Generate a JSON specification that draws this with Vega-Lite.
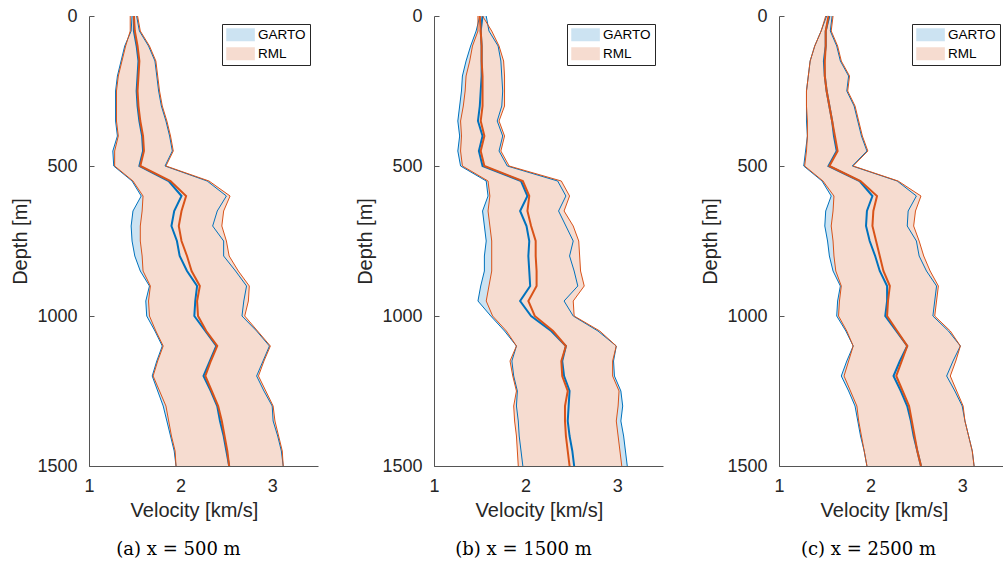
{
"$schema":"https://vega.github.io/schema/vega-lite/v6.json",
"background":"white",
"padding":{"left":10,"top":7,"right":0,"bottom":0},
"datasets":{
"pa":[
{"d":0,"gl":1.47,"gm":1.49,"gu":1.52,"rl":1.45,"rm":1.49,"ru":1.53},
{"d":50,"gl":1.46,"gm":1.49,"gu":1.55,"rl":1.45,"rm":1.50,"ru":1.56},
{"d":100,"gl":1.39,"gm":1.52,"gu":1.65,"rl":1.40,"rm":1.53,"ru":1.66},
{"d":150,"gl":1.35,"gm":1.54,"gu":1.72,"rl":1.36,"rm":1.55,"ru":1.73},
{"d":200,"gl":1.31,"gm":1.53,"gu":1.74,"rl":1.32,"rm":1.54,"ru":1.75},
{"d":250,"gl":1.29,"gm":1.52,"gu":1.76,"rl":1.30,"rm":1.53,"ru":1.77},
{"d":300,"gl":1.29,"gm":1.53,"gu":1.79,"rl":1.30,"rm":1.54,"ru":1.80},
{"d":350,"gl":1.29,"gm":1.55,"gu":1.84,"rl":1.30,"rm":1.56,"ru":1.85},
{"d":400,"gl":1.31,"gm":1.58,"gu":1.88,"rl":1.32,"rm":1.59,"ru":1.89},
{"d":450,"gl":1.26,"gm":1.59,"gu":1.91,"rl":1.28,"rm":1.60,"ru":1.92},
{"d":500,"gl":1.27,"gm":1.55,"gu":1.83,"rl":1.28,"rm":1.56,"ru":1.84},
{"d":550,"gl":1.47,"gm":1.87,"gu":2.29,"rl":1.48,"rm":1.89,"ru":2.31},
{"d":600,"gl":1.57,"gm":2.01,"gu":2.50,"rl":1.59,"rm":2.06,"ru":2.54},
{"d":650,"gl":1.48,"gm":1.93,"gu":2.40,"rl":1.58,"rm":2.01,"ru":2.47},
{"d":700,"gl":1.46,"gm":1.90,"gu":2.35,"rl":1.56,"rm":1.98,"ru":2.45},
{"d":750,"gl":1.47,"gm":1.96,"gu":2.47,"rl":1.56,"rm":2.01,"ru":2.50},
{"d":800,"gl":1.50,"gm":1.99,"gu":2.47,"rl":1.58,"rm":2.07,"ru":2.53},
{"d":850,"gl":1.56,"gm":2.07,"gu":2.60,"rl":1.59,"rm":2.12,"ru":2.63},
{"d":900,"gl":1.66,"gm":2.18,"gu":2.72,"rl":1.67,"rm":2.21,"ru":2.75},
{"d":950,"gl":1.62,"gm":2.16,"gu":2.69,"rl":1.65,"rm":2.18,"ru":2.74},
{"d":1000,"gl":1.63,"gm":2.15,"gu":2.67,"rl":1.66,"rm":2.19,"ru":2.70},
{"d":1050,"gl":1.72,"gm":2.27,"gu":2.83,"rl":1.73,"rm":2.28,"ru":2.84},
{"d":1100,"gl":1.80,"gm":2.39,"gu":2.97,"rl":1.81,"rm":2.40,"ru":2.98},
{"d":1150,"gl":1.74,"gm":2.32,"gu":2.90,"rl":1.75,"rm":2.33,"ru":2.91},
{"d":1200,"gl":1.69,"gm":2.25,"gu":2.83,"rl":1.70,"rm":2.27,"ru":2.85},
{"d":1250,"gl":1.75,"gm":2.33,"gu":2.91,"rl":1.77,"rm":2.34,"ru":2.93},
{"d":1300,"gl":1.81,"gm":2.40,"gu":3.00,"rl":1.84,"rm":2.41,"ru":3.01},
{"d":1350,"gl":1.85,"gm":2.43,"gu":3.01,"rl":1.87,"rm":2.45,"ru":3.03},
{"d":1400,"gl":1.89,"gm":2.47,"gu":3.06,"rl":1.90,"rm":2.48,"ru":3.07},
{"d":1450,"gl":1.93,"gm":2.50,"gu":3.10,"rl":1.94,"rm":2.51,"ru":3.11},
{"d":1500,"gl":1.95,"gm":2.53,"gu":3.12,"rl":1.95,"rm":2.53,"ru":3.12}
],
"pb":[
{"d":0,"gl":1.50,"gm":1.53,"gu":1.57,"rl":1.48,"rm":1.50,"ru":1.53},
{"d":50,"gl":1.46,"gm":1.51,"gu":1.60,"rl":1.48,"rm":1.51,"ru":1.63},
{"d":100,"gl":1.40,"gm":1.52,"gu":1.70,"rl":1.42,"rm":1.52,"ru":1.71},
{"d":150,"gl":1.35,"gm":1.52,"gu":1.73,"rl":1.39,"rm":1.52,"ru":1.76},
{"d":200,"gl":1.31,"gm":1.52,"gu":1.74,"rl":1.35,"rm":1.53,"ru":1.77},
{"d":250,"gl":1.30,"gm":1.51,"gu":1.75,"rl":1.34,"rm":1.53,"ru":1.77},
{"d":300,"gl":1.28,"gm":1.50,"gu":1.74,"rl":1.32,"rm":1.53,"ru":1.77},
{"d":350,"gl":1.26,"gm":1.48,"gu":1.69,"rl":1.29,"rm":1.51,"ru":1.71},
{"d":400,"gl":1.28,"gm":1.53,"gu":1.75,"rl":1.30,"rm":1.55,"ru":1.77},
{"d":450,"gl":1.26,"gm":1.49,"gu":1.71,"rl":1.29,"rm":1.51,"ru":1.73},
{"d":500,"gl":1.29,"gm":1.53,"gu":1.80,"rl":1.31,"rm":1.55,"ru":1.82},
{"d":550,"gl":1.57,"gm":1.95,"gu":2.35,"rl":1.59,"rm":1.97,"ru":2.39},
{"d":600,"gl":1.59,"gm":2.02,"gu":2.44,"rl":1.61,"rm":2.04,"ru":2.48},
{"d":650,"gl":1.53,"gm":1.94,"gu":2.36,"rl":1.59,"rm":2.02,"ru":2.42},
{"d":700,"gl":1.55,"gm":2.01,"gu":2.44,"rl":1.61,"rm":2.06,"ru":2.52},
{"d":750,"gl":1.57,"gm":2.04,"gu":2.52,"rl":1.63,"rm":2.11,"ru":2.58},
{"d":800,"gl":1.55,"gm":2.03,"gu":2.48,"rl":1.63,"rm":2.11,"ru":2.59},
{"d":850,"gl":1.55,"gm":2.04,"gu":2.53,"rl":1.63,"rm":2.12,"ru":2.60},
{"d":900,"gl":1.51,"gm":2.05,"gu":2.57,"rl":1.60,"rm":2.12,"ru":2.64},
{"d":950,"gl":1.48,"gm":1.94,"gu":2.42,"rl":1.57,"rm":2.03,"ru":2.52},
{"d":1000,"gl":1.62,"gm":2.06,"gu":2.52,"rl":1.64,"rm":2.10,"ru":2.53},
{"d":1050,"gl":1.77,"gm":2.28,"gu":2.79,"rl":1.79,"rm":2.30,"ru":2.81},
{"d":1100,"gl":1.90,"gm":2.44,"gu":2.99,"rl":1.90,"rm":2.44,"ru":2.99},
{"d":1150,"gl":1.85,"gm":2.40,"gu":2.96,"rl":1.83,"rm":2.39,"ru":2.95},
{"d":1200,"gl":1.87,"gm":2.42,"gu":2.97,"rl":1.86,"rm":2.40,"ru":2.95},
{"d":1250,"gl":1.91,"gm":2.48,"gu":3.04,"rl":1.90,"rm":2.46,"ru":3.02},
{"d":1300,"gl":1.90,"gm":2.47,"gu":3.06,"rl":1.87,"rm":2.43,"ru":3.01},
{"d":1350,"gl":1.92,"gm":2.46,"gu":3.04,"rl":1.88,"rm":2.43,"ru":2.99},
{"d":1400,"gl":1.93,"gm":2.48,"gu":3.07,"rl":1.90,"rm":2.44,"ru":3.01},
{"d":1450,"gl":1.95,"gm":2.51,"gu":3.09,"rl":1.91,"rm":2.46,"ru":3.03},
{"d":1500,"gl":1.97,"gm":2.53,"gu":3.11,"rl":1.92,"rm":2.48,"ru":3.05}
],
"pc":[
{"d":0,"gl":1.52,"gm":1.55,"gu":1.58,"rl":1.51,"rm":1.54,"ru":1.59},
{"d":50,"gl":1.46,"gm":1.51,"gu":1.56,"rl":1.46,"rm":1.51,"ru":1.57},
{"d":100,"gl":1.39,"gm":1.51,"gu":1.63,"rl":1.39,"rm":1.51,"ru":1.64},
{"d":150,"gl":1.34,"gm":1.49,"gu":1.67,"rl":1.34,"rm":1.50,"ru":1.68},
{"d":200,"gl":1.32,"gm":1.50,"gu":1.76,"rl":1.32,"rm":1.50,"ru":1.77},
{"d":250,"gl":1.30,"gm":1.52,"gu":1.74,"rl":1.30,"rm":1.52,"ru":1.75},
{"d":300,"gl":1.30,"gm":1.55,"gu":1.82,"rl":1.30,"rm":1.55,"ru":1.83},
{"d":350,"gl":1.30,"gm":1.58,"gu":1.86,"rl":1.31,"rm":1.58,"ru":1.87},
{"d":400,"gl":1.31,"gm":1.60,"gu":1.90,"rl":1.31,"rm":1.61,"ru":1.91},
{"d":450,"gl":1.29,"gm":1.63,"gu":1.96,"rl":1.30,"rm":1.64,"ru":1.97},
{"d":500,"gl":1.27,"gm":1.54,"gu":1.80,"rl":1.28,"rm":1.55,"ru":1.81},
{"d":550,"gl":1.47,"gm":1.88,"gu":2.29,"rl":1.48,"rm":1.89,"ru":2.30},
{"d":600,"gl":1.57,"gm":2.02,"gu":2.50,"rl":1.60,"rm":2.07,"ru":2.55},
{"d":650,"gl":1.51,"gm":1.96,"gu":2.41,"rl":1.59,"rm":2.03,"ru":2.49},
{"d":700,"gl":1.50,"gm":1.95,"gu":2.40,"rl":1.57,"rm":2.02,"ru":2.47},
{"d":750,"gl":1.53,"gm":1.99,"gu":2.50,"rl":1.59,"rm":2.06,"ru":2.53},
{"d":800,"gl":1.55,"gm":2.05,"gu":2.53,"rl":1.60,"rm":2.10,"ru":2.58},
{"d":850,"gl":1.59,"gm":2.10,"gu":2.61,"rl":1.62,"rm":2.14,"ru":2.65},
{"d":900,"gl":1.67,"gm":2.18,"gu":2.72,"rl":1.68,"rm":2.21,"ru":2.74},
{"d":950,"gl":1.64,"gm":2.18,"gu":2.70,"rl":1.66,"rm":2.19,"ru":2.72},
{"d":1000,"gl":1.63,"gm":2.16,"gu":2.68,"rl":1.65,"rm":2.18,"ru":2.70},
{"d":1050,"gl":1.73,"gm":2.28,"gu":2.85,"rl":1.74,"rm":2.29,"ru":2.87},
{"d":1100,"gl":1.81,"gm":2.40,"gu":2.98,"rl":1.81,"rm":2.40,"ru":2.98},
{"d":1150,"gl":1.74,"gm":2.32,"gu":2.90,"rl":1.76,"rm":2.34,"ru":2.93},
{"d":1200,"gl":1.68,"gm":2.25,"gu":2.83,"rl":1.71,"rm":2.28,"ru":2.87},
{"d":1250,"gl":1.76,"gm":2.33,"gu":2.92,"rl":1.78,"rm":2.35,"ru":2.94},
{"d":1300,"gl":1.83,"gm":2.40,"gu":3.00,"rl":1.85,"rm":2.42,"ru":3.01},
{"d":1350,"gl":1.86,"gm":2.44,"gu":3.03,"rl":1.87,"rm":2.45,"ru":3.03},
{"d":1400,"gl":1.89,"gm":2.47,"gu":3.07,"rl":1.90,"rm":2.48,"ru":3.07},
{"d":1450,"gl":1.93,"gm":2.51,"gu":3.11,"rl":1.93,"rm":2.51,"ru":3.11},
{"d":1500,"gl":1.96,"gm":2.55,"gu":3.13,"rl":1.96,"rm":2.55,"ru":3.13}
]
},
"spacing":116,
"bounds":"flush",
"resolve":{"scale":{"color":"independent"},"legend":{"color":"independent"}},
"hconcat":[
{"width":229,"height":450,"data":{"name":"pa"},
"title":{"text":"(a) x = 500 m","orient":"bottom","anchor":"middle","dx":-25,"offset":20},
"encoding":{"y":{"field":"d","type":"quantitative","scale":{"domain":[0,1500],"reverse":true,"nice":false},"axis":{"values":[0,500,1000,1500],"format":"d","title":"Depth [m]"}}},
"layer":[
{"mark":{"type":"area","orient":"horizontal","opacity":1},"encoding":{"x":{"field":"gl","type":"quantitative","scale":{"domain":[1,3.5],"nice":false,"zero":false},"axis":{"values":[1,2,3],"title":"Velocity [km/s]"}},"x2":{"field":"gu"},"color":{"datum":"GARTO","scale":{"domain":["GARTO","RML"],"range":["#CCE3F2","#F6DCD0"]},"legend":{"title":null}}}},
{"mark":{"type":"area","orient":"horizontal","opacity":1},"encoding":{"x":{"field":"rl","type":"quantitative","scale":{"domain":[1,3.5],"nice":false,"zero":false},"axis":{"values":[1,2,3],"title":"Velocity [km/s]"}},"x2":{"field":"ru"},"color":{"datum":"RML","scale":{"domain":["GARTO","RML"],"range":["#CCE3F2","#F6DCD0"]},"legend":{"title":null}}}},
{"mark":{"type":"line","color":"#0072BD","strokeWidth":1},"encoding":{"x":{"field":"gl","type":"quantitative","scale":{"domain":[1,3.5],"nice":false,"zero":false},"axis":{"values":[1,2,3],"title":"Velocity [km/s]"}},"order":{"field":"d"}}},
{"mark":{"type":"line","color":"#0072BD","strokeWidth":1},"encoding":{"x":{"field":"gu","type":"quantitative","scale":{"domain":[1,3.5],"nice":false,"zero":false},"axis":{"values":[1,2,3],"title":"Velocity [km/s]"}},"order":{"field":"d"}}},
{"mark":{"type":"line","color":"#0072BD","strokeWidth":2},"encoding":{"x":{"field":"gm","type":"quantitative","scale":{"domain":[1,3.5],"nice":false,"zero":false},"axis":{"values":[1,2,3],"title":"Velocity [km/s]"}},"order":{"field":"d"}}},
{"mark":{"type":"line","color":"#D95319","strokeWidth":1},"encoding":{"x":{"field":"rl","type":"quantitative","scale":{"domain":[1,3.5],"nice":false,"zero":false},"axis":{"values":[1,2,3],"title":"Velocity [km/s]"}},"order":{"field":"d"}}},
{"mark":{"type":"line","color":"#D95319","strokeWidth":1},"encoding":{"x":{"field":"ru","type":"quantitative","scale":{"domain":[1,3.5],"nice":false,"zero":false},"axis":{"values":[1,2,3],"title":"Velocity [km/s]"}},"order":{"field":"d"}}},
{"mark":{"type":"line","color":"#D95319","strokeWidth":2},"encoding":{"x":{"field":"rm","type":"quantitative","scale":{"domain":[1,3.5],"nice":false,"zero":false},"axis":{"values":[1,2,3],"title":"Velocity [km/s]"}},"order":{"field":"d"}}}
]},
{"width":229,"height":450,"data":{"name":"pb"},
"title":{"text":"(b) x = 1500 m","orient":"bottom","anchor":"middle","dx":-25,"offset":20},
"encoding":{"y":{"field":"d","type":"quantitative","scale":{"domain":[0,1500],"reverse":true,"nice":false},"axis":{"values":[0,500,1000,1500],"format":"d","title":"Depth [m]"}}},
"layer":[
{"mark":{"type":"area","orient":"horizontal","opacity":1},"encoding":{"x":{"field":"gl","type":"quantitative","scale":{"domain":[1,3.5],"nice":false,"zero":false},"axis":{"values":[1,2,3],"title":"Velocity [km/s]"}},"x2":{"field":"gu"},"color":{"datum":"GARTO","scale":{"domain":["GARTO","RML"],"range":["#CCE3F2","#F6DCD0"]},"legend":{"title":null}}}},
{"mark":{"type":"area","orient":"horizontal","opacity":1},"encoding":{"x":{"field":"rl","type":"quantitative","scale":{"domain":[1,3.5],"nice":false,"zero":false},"axis":{"values":[1,2,3],"title":"Velocity [km/s]"}},"x2":{"field":"ru"},"color":{"datum":"RML","scale":{"domain":["GARTO","RML"],"range":["#CCE3F2","#F6DCD0"]},"legend":{"title":null}}}},
{"mark":{"type":"line","color":"#0072BD","strokeWidth":1},"encoding":{"x":{"field":"gl","type":"quantitative","scale":{"domain":[1,3.5],"nice":false,"zero":false},"axis":{"values":[1,2,3],"title":"Velocity [km/s]"}},"order":{"field":"d"}}},
{"mark":{"type":"line","color":"#0072BD","strokeWidth":1},"encoding":{"x":{"field":"gu","type":"quantitative","scale":{"domain":[1,3.5],"nice":false,"zero":false},"axis":{"values":[1,2,3],"title":"Velocity [km/s]"}},"order":{"field":"d"}}},
{"mark":{"type":"line","color":"#0072BD","strokeWidth":2},"encoding":{"x":{"field":"gm","type":"quantitative","scale":{"domain":[1,3.5],"nice":false,"zero":false},"axis":{"values":[1,2,3],"title":"Velocity [km/s]"}},"order":{"field":"d"}}},
{"mark":{"type":"line","color":"#D95319","strokeWidth":1},"encoding":{"x":{"field":"rl","type":"quantitative","scale":{"domain":[1,3.5],"nice":false,"zero":false},"axis":{"values":[1,2,3],"title":"Velocity [km/s]"}},"order":{"field":"d"}}},
{"mark":{"type":"line","color":"#D95319","strokeWidth":1},"encoding":{"x":{"field":"ru","type":"quantitative","scale":{"domain":[1,3.5],"nice":false,"zero":false},"axis":{"values":[1,2,3],"title":"Velocity [km/s]"}},"order":{"field":"d"}}},
{"mark":{"type":"line","color":"#D95319","strokeWidth":2},"encoding":{"x":{"field":"rm","type":"quantitative","scale":{"domain":[1,3.5],"nice":false,"zero":false},"axis":{"values":[1,2,3],"title":"Velocity [km/s]"}},"order":{"field":"d"}}}
]},
{"width":229,"height":450,"data":{"name":"pc"},
"title":{"text":"(c) x = 2500 m","orient":"bottom","anchor":"middle","dx":-25,"offset":20},
"encoding":{"y":{"field":"d","type":"quantitative","scale":{"domain":[0,1500],"reverse":true,"nice":false},"axis":{"values":[0,500,1000,1500],"format":"d","title":"Depth [m]"}}},
"layer":[
{"mark":{"type":"area","orient":"horizontal","opacity":1},"encoding":{"x":{"field":"gl","type":"quantitative","scale":{"domain":[1,3.5],"nice":false,"zero":false},"axis":{"values":[1,2,3],"title":"Velocity [km/s]"}},"x2":{"field":"gu"},"color":{"datum":"GARTO","scale":{"domain":["GARTO","RML"],"range":["#CCE3F2","#F6DCD0"]},"legend":{"title":null}}}},
{"mark":{"type":"area","orient":"horizontal","opacity":1},"encoding":{"x":{"field":"rl","type":"quantitative","scale":{"domain":[1,3.5],"nice":false,"zero":false},"axis":{"values":[1,2,3],"title":"Velocity [km/s]"}},"x2":{"field":"ru"},"color":{"datum":"RML","scale":{"domain":["GARTO","RML"],"range":["#CCE3F2","#F6DCD0"]},"legend":{"title":null}}}},
{"mark":{"type":"line","color":"#0072BD","strokeWidth":1},"encoding":{"x":{"field":"gl","type":"quantitative","scale":{"domain":[1,3.5],"nice":false,"zero":false},"axis":{"values":[1,2,3],"title":"Velocity [km/s]"}},"order":{"field":"d"}}},
{"mark":{"type":"line","color":"#0072BD","strokeWidth":1},"encoding":{"x":{"field":"gu","type":"quantitative","scale":{"domain":[1,3.5],"nice":false,"zero":false},"axis":{"values":[1,2,3],"title":"Velocity [km/s]"}},"order":{"field":"d"}}},
{"mark":{"type":"line","color":"#0072BD","strokeWidth":2},"encoding":{"x":{"field":"gm","type":"quantitative","scale":{"domain":[1,3.5],"nice":false,"zero":false},"axis":{"values":[1,2,3],"title":"Velocity [km/s]"}},"order":{"field":"d"}}},
{"mark":{"type":"line","color":"#D95319","strokeWidth":1},"encoding":{"x":{"field":"rl","type":"quantitative","scale":{"domain":[1,3.5],"nice":false,"zero":false},"axis":{"values":[1,2,3],"title":"Velocity [km/s]"}},"order":{"field":"d"}}},
{"mark":{"type":"line","color":"#D95319","strokeWidth":1},"encoding":{"x":{"field":"ru","type":"quantitative","scale":{"domain":[1,3.5],"nice":false,"zero":false},"axis":{"values":[1,2,3],"title":"Velocity [km/s]"}},"order":{"field":"d"}}},
{"mark":{"type":"line","color":"#D95319","strokeWidth":2},"encoding":{"x":{"field":"rm","type":"quantitative","scale":{"domain":[1,3.5],"nice":false,"zero":false},"axis":{"values":[1,2,3],"title":"Velocity [km/s]"}},"order":{"field":"d"}}}
]}
],
"config":{
"view":{"stroke":null},
"font":"Liberation Sans",
"axis":{"domainColor":"#555555","tickColor":"#555555","domainWidth":1,"tickWidth":1,"tickSize":-5,"labelFont":"Liberation Sans","labelFontSize":18,"labelColor":"#262626","titleFont":"Liberation Sans","titleFontSize":20,"titleFontWeight":"normal","titleColor":"#262626","grid":false,"labelFlush":false},
"axisX":{"labelPadding":16,"titleX":105,"titleY":50.7,"titleBaseline":"alphabetic"},
"axisY":{"labelPadding":17,"titleX":-69,"titleY":225,"titleBaseline":"middle"},
"legend":{"orient":"top-right","offset":8,"padding":4,"strokeColor":"#262626","fillColor":"white","symbolType":"M-1,-1H3.4V1H-1Z","symbolSize":169,"symbolStrokeWidth":0,"symbolOpacity":1,"labelFont":"Liberation Sans","labelFontSize":13.5,"labelColor":"#000000","labelOffset":18.6,"rowPadding":4},
"title":{"font":"DejaVu Serif","fontSize":18,"fontWeight":"normal","color":"#000000"}
}
}
